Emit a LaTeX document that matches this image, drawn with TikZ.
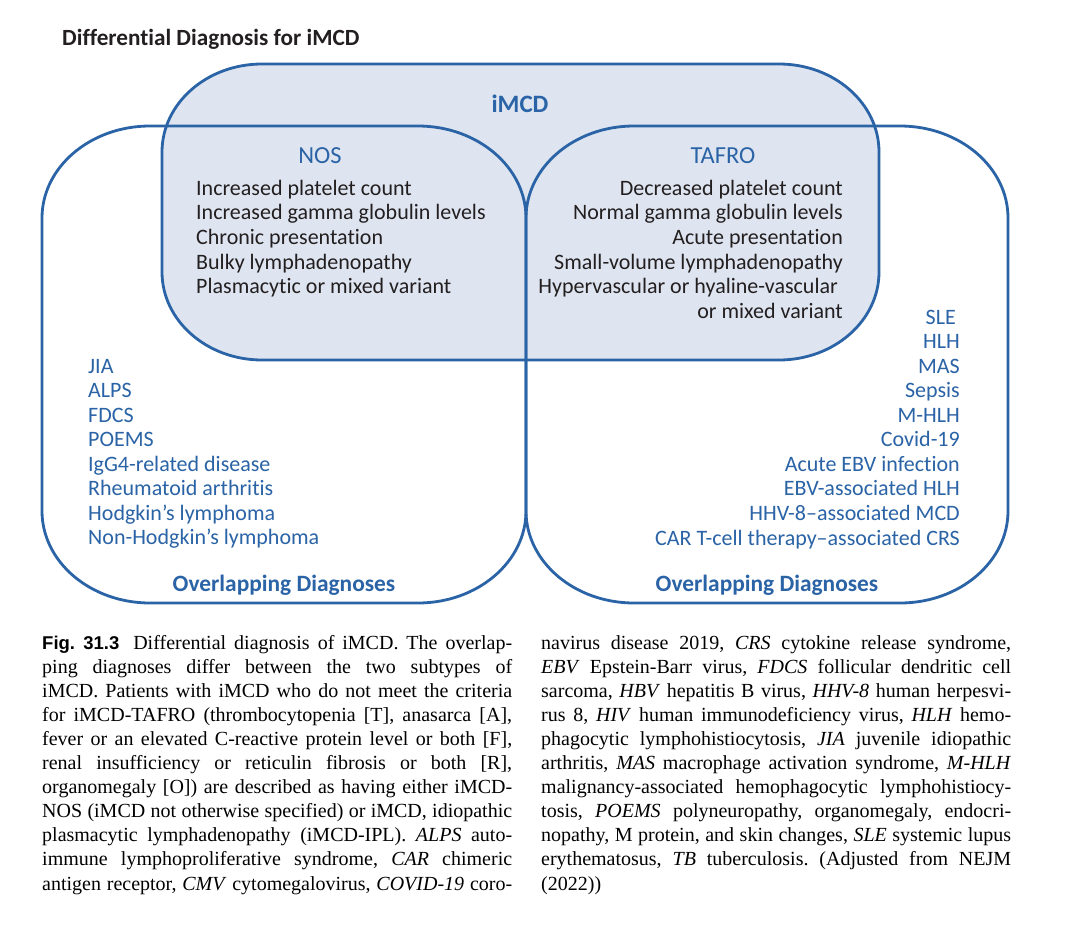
\documentclass[tikz,border=0pt]{standalone}
\usepackage{fontspec}
\setmainfont{Liberation Serif}
\newfontfamily\dsans[Ligatures=NoCommon]{Carlito}
\newfontfamily\figsans{Liberation Sans}
\definecolor{vblue}{HTML}{2A63A6}
\definecolor{vfill}{HTML}{DEE5F0}
\definecolor{vtext}{HTML}{231F20}
% rounded rectangle with elliptical corners: style, x1, y1, x2, y2, rx, ry
\newcommand\venbox[7]{%
  \pgfmathsetmacro\vka{0.5523*#6}%
  \pgfmathsetmacro\vkb{0.5523*#7}%
  \path[#1] (#2+#6,#3) -- (#4-#6,#3)
    .. controls (#4-#6+\vka,#3) and (#4,#3+#7-\vkb) .. (#4,#3+#7)
    -- (#4,#5-#7)
    .. controls (#4,#5-#7+\vkb) and (#4-#6+\vka,#5) .. (#4-#6,#5)
    -- (#2+#6,#5)
    .. controls (#2+#6-\vka,#5) and (#2,#5-#7+\vkb) .. (#2,#5-#7)
    -- (#2,#3+#7)
    .. controls (#2,#3+#7-\vkb) and (#2+#6-\vka,#3) .. (#2+#6,#3) -- cycle;}
\newcommand\jl[1]{\hbox to 470pt{#1}}
\begin{document}
\begin{tikzpicture}[x=1pt,y=-1pt,
  lbl/.style={inner sep=0pt, font=\dsans\fontsize{22}{26}\selectfont},
  dx/.style={lbl, text=vtext},
  bl/.style={lbl, text=vblue},
  sub/.style={inner sep=0pt, text=vblue, font=\dsans\fontsize{24.5}{28}\selectfont},
  head/.style={inner sep=0pt, text=vblue, font=\dsans\bfseries\fontsize{23.4}{27}\selectfont},
  outline/.style={draw=vblue, line width=2.8pt},
  captext/.style={inner sep=0pt, anchor=base west, text=black}]
\useasboundingbox (0,0) rectangle (1070,926);
\fill[white] (0,0) rectangle (1070,926);

% shapes
\venbox{fill=vfill}{162}{64}{879}{360}{100}{88}
\venbox{outline}{42}{126}{526}{603}{108}{92}
\venbox{outline}{526}{126}{1008}{603}{108}{92}
\venbox{outline}{162}{64}{879}{360}{100}{88}

% title
\node[inner sep=0pt, anchor=base west, text=vtext,
  font=\dsans\bfseries\fontsize{23.2}{27}\selectfont] (title) at (62,45) {Differential Diagnosis for iMCD};

% headings
\node[head, anchor=base, font=\dsans\bfseries\fontsize{25}{29}\selectfont] (imcd) at (520,112) {iMCD};
\node[sub, anchor=base] (nos) at (320,163) {NOS};
\node[sub, anchor=base] (tafro) at (723,163) {TAFRO};
\node[head, anchor=base] (ovl) at (284,591) {Overlapping Diagnoses};
\node[head, anchor=base] (ovr) at (767,591) {Overlapping Diagnoses};

% NOS features
\foreach \t [count=\i] in {Increased platelet count, Increased gamma globulin levels,
  Chronic presentation, Bulky lymphadenopathy, Plasmacytic or mixed variant}
  \node[dx, anchor=base west] (n\i) at ({196},{195+24.7*(\i-1)}) {\t};

% TAFRO features
\foreach \t [count=\i] in {Decreased platelet count, Normal gamma globulin levels,
  Acute presentation, Small-volume lymphadenopathy}
  \node[dx, anchor=base east] (t\i) at ({843},{195+24.7*(\i-1)}) {\t};
\node[dx, anchor=base east] (t5) at (838,{195+24.7*4}) {Hypervascular or hyaline-vascular};
\node[dx, anchor=base east] (t6) at (843,{195+24.7*5}) {or mixed variant};

% left overlapping list
\foreach \t [count=\i] in {JIA, ALPS, FDCS, POEMS, IgG4-related disease,
  Rheumatoid arthritis, Hodgkin’s lymphoma, Non-Hodgkin’s lymphoma}
  \node[bl, anchor=base west] (l\i) at ({88},{373+24.57*(\i-1)}) {\t};

% right overlapping list
\node[bl, anchor=base east] (r1) at (956,324) {SLE};
\foreach \t [count=\i from 2] in {HLH, MAS, Sepsis, M-HLH, Covid-19,
  Acute EBV infection, EBV-associated HLH, HHV-8–associated MCD,
  CAR T-cell therapy–associated CRS}
  \node[bl, anchor=base east] (r\i) at ({960},{324+24.56*(\i-1)}) {\t};

% caption
\node[captext] (capl) at (42,649) {\parbox[t]{470pt}{\fontsize{20}{24.1}\selectfont\frenchspacing
\jl{{\figsans\bfseries\fontsize{18.5}{24}\selectfont Fig.\ 31.3}\hspace{14pt}Differential diagnosis of iMCD. The overlap-}
\jl{ping diagnoses differ between the two subtypes of}
\jl{iMCD. Patients with iMCD who do not meet the criteria}
\jl{for iMCD-TAFRO (thrombocytopenia [T], anasarca [A],}
\jl{fever or an elevated C-reactive protein level or both [F],}
\jl{renal insufficiency or reticulin fibrosis or both [R],}
\jl{organomegaly [O]) are described as having either iMCD-}
\jl{NOS (iMCD not otherwise specified) or iMCD, idiopathic}
\jl{plasmacytic lymphadenopathy (iMCD-IPL). \textit{ALPS} auto-}
\jl{immune lymphoproliferative syndrome, \textit{CAR} chimeric}
\jl{antigen receptor, \textit{CMV} cytomegalovirus, \textit{COVID-19} coro-}}};

\node[captext] (capr) at (541,649) {\parbox[t]{470pt}{\fontsize{20}{24.1}\selectfont\frenchspacing
\jl{navirus disease 2019, \textit{CRS} cytokine release syndrome,}
\jl{\textit{EBV} Epstein-Barr virus, \textit{FDCS} follicular dendritic cell}
\jl{sarcoma, \textit{HBV} hepatitis B virus, \textit{HHV-8} human herpesvi-}
\jl{rus 8, \textit{HIV} human immunodeficiency virus, \textit{HLH} hemo-}
\jl{phagocytic lymphohistiocytosis, \textit{JIA} juvenile idiopathic}
\jl{arthritis, \textit{MAS} macrophage activation syndrome, \textit{M-HLH}}
\jl{malignancy-associated hemophagocytic lymphohistiocy-}
\jl{tosis, \textit{POEMS} polyneuropathy, organomegaly, endocri-}
\jl{nopathy, M protein, and skin changes, \textit{SLE} systemic lupus}
\jl{erythematosus, \textit{TB} tuberculosis. (Adjusted from NEJM}
\hbox{(2022))}}};
\end{tikzpicture}
\end{document}
